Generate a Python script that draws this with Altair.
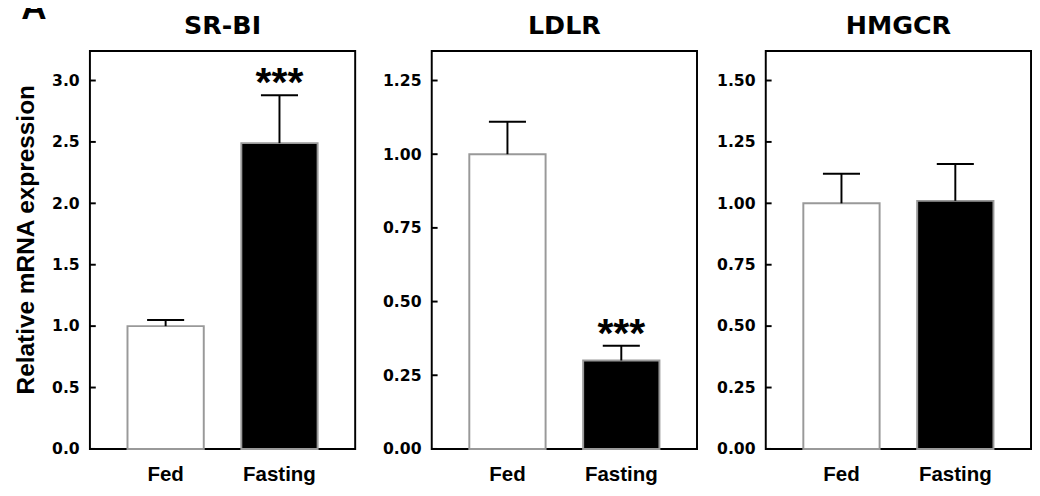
import altair as alt
import pandas as pd

# ---- data ----
panel_label = "A"
groups = ["Fed", "Fasting"]
genes = ["SR-BI", "LDLR", "HMGCR"]

srbi_mean = [1.00, 2.49]
srbi_sem = [0.05, 0.39]
srbi_sig = ["", "***"]
srbi_ticks = [0.0, 0.5, 1.0, 1.5, 2.0, 2.5, 3.0]

ldlr_mean = [1.00, 0.30]
ldlr_sem = [0.11, 0.05]
ldlr_sig = ["", "***"]
ldlr_ticks = [0.0, 0.25, 0.50, 0.75, 1.00, 1.25]

hmgcr_mean = [1.00, 1.01]
hmgcr_sem = [0.12, 0.15]
hmgcr_sig = ["", ""]
hmgcr_ticks = [0.0, 0.25, 0.50, 0.75, 1.00, 1.25, 1.50]

y_max = [3.24, 1.35, 1.62]
y_fmt = [".1f", ".2f", ".2f"]
y_title = "Relative mRNA expression"

NUM_FONT = "DejaVu Sans"
TXT_FONT = "Liberation Sans"


def panel(title, means, sems, sig, ticks, ymax, fmt, ytitle=None):
    df = pd.DataFrame({
        "group": groups,
        "mean": means,
        "upper": [m + s for m, s in zip(means, sems)],
        "sig": sig,
    })
    tdf = pd.DataFrame({"t": ticks})

    x = alt.X(
        "group:N", sort=groups,
        scale=alt.Scale(paddingInner=0.33, paddingOuter=0.33),
        axis=alt.Axis(title=None, labelAngle=0, ticks=False, tickSize=0, domain=False,
                      labelPadding=15, labelFont=TXT_FONT, labelFontSize=21,
                      labelFontWeight="bold", labelColor="black"),
    )
    yscale = alt.Scale(domain=[0, ymax], nice=False, zero=True)
    axis_kw = dict(values=ticks, format=fmt, ticks=False, tickSize=0, domain=False, grid=False,
                   labelPadding=11, labelFont=NUM_FONT, labelFontSize=16,
                   labelFontWeight="bold", labelColor="black")
    if ytitle:
        axis_kw.update(title=ytitle, titleFont=TXT_FONT, titleFontSize=25,
                       titleFontWeight="bold", titleColor="black", titlePadding=13,
                       titleY=193)
    else:
        axis_kw.update(title=None)
    yaxis = alt.Axis(**axis_kw)

    base = alt.Chart(df).encode(x=x)
    bars = base.mark_bar(stroke="#999999", strokeWidth=2, opacity=1).encode(
        y=alt.Y("mean:Q", scale=yscale, axis=yaxis),
        fill=alt.Fill("group:N", scale=alt.Scale(domain=groups, range=["white", "black"]), legend=None),
    )
    err = base.mark_rule(color="black", strokeWidth=2).encode(
        y="mean:Q", y2="upper:Q")
    cap = base.mark_tick(color="black", thickness=2, size=38, opacity=1).encode(
        y="upper:Q")
    stars = base.mark_text(font=TXT_FONT, fontSize=42, fontWeight="bold",
                           baseline="alphabetic", dy=1, color="black").encode(
        y="upper:Q", text="sig:N")
    inner_ticks = alt.Chart(tdf).mark_rule(color="black", strokeWidth=2).encode(
        y="t:Q", x=alt.value(0), x2=alt.value(6))

    return alt.layer(bars, err, cap, stars, inner_ticks).properties(
        width=272, height=408,
        title=alt.TitleParams(title, font=NUM_FONT, fontSize=26, fontWeight="bold",
                              offset=12, color="black", frame="group"),
    )


p1 = panel(genes[0], srbi_mean, srbi_sem, srbi_sig, srbi_ticks, y_max[0], y_fmt[0],
           ytitle=y_title)
p2 = panel(genes[1], ldlr_mean, ldlr_sem, ldlr_sig, ldlr_ticks, y_max[1], y_fmt[1])
p3 = panel(genes[2], hmgcr_mean, hmgcr_sem, hmgcr_sig, hmgcr_ticks, y_max[2], y_fmt[2])

left = alt.hconcat(p1, p2, spacing=25.5).resolve_scale(y="independent", x="independent")
chart = alt.hconcat(left, p3, spacing=17).resolve_scale(
    y="independent", x="independent"
).properties(
    title=alt.TitleParams(panel_label, anchor="start", frame="bounds", font=TXT_FONT,
                          fontSize=36, fontWeight="bold", color="black",
                          baseline="alphabetic", offset=-42, dx=8),
    padding={"left": 5, "top": -24, "right": 0, "bottom": 0},
    background="white",
).configure_view(stroke="black", strokeWidth=2)

chart.save("out.html", embed_options={"renderer": "svg", "actions": False})
